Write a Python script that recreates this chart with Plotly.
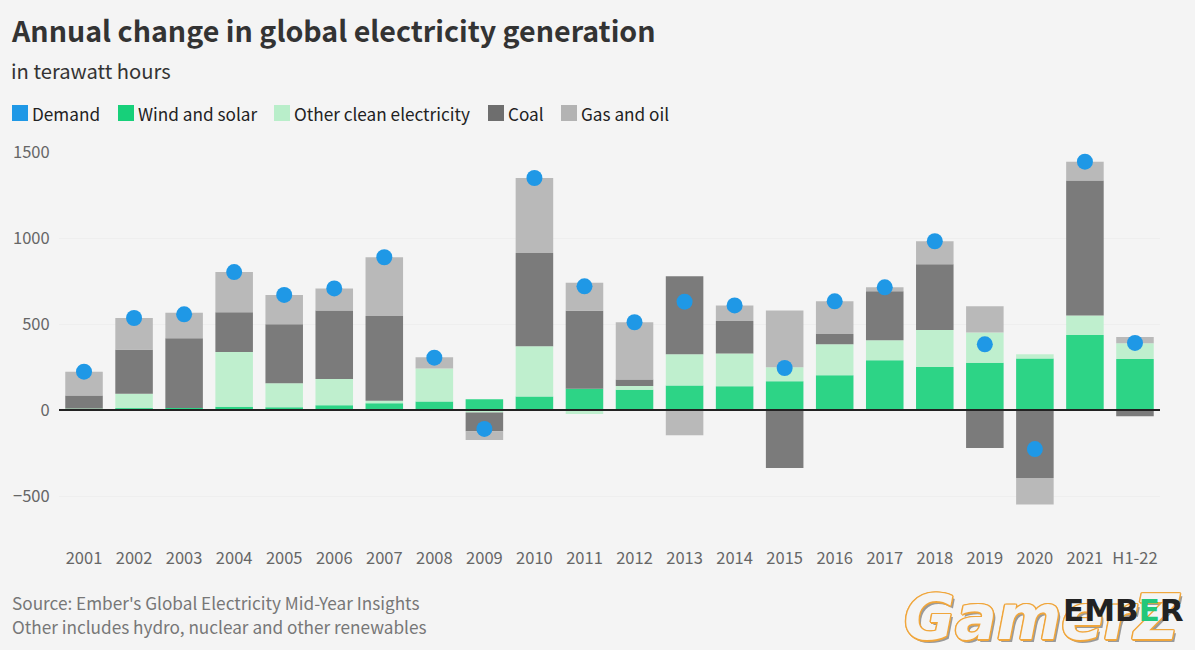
import plotly.graph_objects as go

# Data (TWh)
years = ["2001", "2002", "2003", "2004", "2005", "2006", "2007", "2008", "2009", "2010", "2011",
         "2012", "2013", "2014", "2015", "2016", "2017", "2018", "2019", "2020", "2021", "H1-22"]
wind_solar = [2, 10, 12, 19, 16, 27, 39, 50, 62, 79, 124, 118, 143, 138, 167, 202, 289, 250, 275, 300, 436, 297]
other_clean = [6, 85, -5, 318, 139, 153, 15, 192, -15, 291, -23, 22, 181, 191, 81, 180, 116, 215, 175, 24, 114, 91]
coal = [77, 256, 405, 231, 343, 399, 493, 0, -109, 543, 453, 38, 453, 188, -337, 60, 285, 382, -221, -395, 785, -37]
gas_oil = [138, 184, 149, 234, 171, 128, 341, 64, -50, 436, 163, 332, -147, 91, 331, 190, 23, 134, 153, -155, 109, 36]
demand = [223, 535, 556, 802, 669, 707, 888, 304, -110, 1349, 719, 510, 630, 608, 244, 632, 713, 981, 382, -227, 1444, 390]

legend_names = ["Demand", "Wind and solar", "Other clean electricity", "Coal", "Gas and oil"]
legend_colors = ["#1f98e6", "#17d07a", "#b9eeca", "#6e6e6e", "#b3b3b3"]
legend_x = [12, 118, 274, 488, 561]

tick_vals = [-500, 0, 500, 1000, 1500]

FONT = "Noto Sans CJK SC"
BG = "#f4f4f4"
W, H = 1195, 650
L, R, T, B = 59, 35, 152, 111


def px(x):
    return (x - L) / (W - L - R)


def py(y):
    return 1 - (y - T) / (H - T - B)


fig = go.Figure()

# Stacked bars
for name, vals, col in [("Wind and solar", wind_solar, legend_colors[1]),
                        ("Other clean electricity", other_clean, legend_colors[2]),
                        ("Coal", coal, legend_colors[3]),
                        ("Gas and oil", gas_oil, legend_colors[4])]:
    fig.add_trace(go.Bar(x=years, y=vals, name=name, marker=dict(color=col, opacity=0.9, line=dict(width=0))))

# Demand dots
fig.add_trace(go.Scatter(x=years, y=demand, name="Demand", mode="markers",
                         marker=dict(color=legend_colors[0], size=16), cliponaxis=False))

fig.add_shape(type="line", xref="paper", yref="y", x0=0, x1=1, y0=0, y1=0,
              line=dict(color="#222222", width=2), layer="above")

# Hand built legend with square swatches
for name, col, x in zip(legend_names, legend_colors, legend_x):
    fig.add_shape(type="rect", xref="paper", yref="paper", x0=px(x), x1=px(x + 16), y0=py(105), y1=py(121),
                  fillcolor=col, line=dict(width=0))
    fig.add_annotation(text=name, xref="paper", yref="paper", x=px(x + 18), y=py(113), xanchor="left",
                       yanchor="middle", showarrow=False, font=dict(family=FONT, size=17.2, color="#222222"))


def label(text, x, y, size, color, weight="normal", family=FONT, **font_kw):
    fig.add_annotation(text=text, xref="paper", yref="paper", x=px(x), y=py(y), xanchor="left", yanchor="middle",
                       showarrow=False, align="left",
                       font=dict(family=family, size=size, color=color, weight=weight, **font_kw))


label("Annual change in global electricity generation", 9, 30, 28.6, "#333333", weight="bold")
label("in terawatt hours", 9, 70, 20.2, "#333333")
label("Source: Ember's Global Electricity Mid-Year Insights", 10, 602, 17.2, "#777777")
label("Other includes hydro, nuclear and other renewables", 10, 626, 17.2, "#777777")

# Watermark sits under the logo
outline = ",".join(f"{dx}px {dy}px 0 {c}" for dx, dy, c in
                   [(-1.5, 0, "#f0a63c"), (1.5, 0, "#f0a63c"), (0, -1.5, "#f0a63c"), (0, 1.5, "#f0a63c"),
                    (-1, -1, "#f0a63c"), (1, 1, "#f0a63c"), (-1, 1, "#f0a63c"), (1, -1, "#f0a63c"),
                    (2.5, 2.5, "#9a9a9a")])
fig.add_annotation(text="<i>GamerZ</i>", xref="paper", yref="paper", x=px(1042), y=py(617), xanchor="center",
                   yanchor="middle", showarrow=False,
                   font=dict(family="DejaVu Sans", size=62, weight="bold", color=BG, shadow=outline))
label("EMB<span style='color:#22c77a'>E</span>R", 1061, 610, 31, "#222222", weight="bold", family="DejaVu Sans")

fig.update_layout(
    width=W, height=H,
    barmode="relative", bargap=0.25,
    paper_bgcolor=BG, plot_bgcolor=BG,
    showlegend=False,
    margin=dict(l=L, r=R, t=T, b=B),
    font=dict(family=FONT),
    xaxis=dict(type="category", range=[-0.5, 21.5], showgrid=False, zeroline=False, ticks="outside", ticklen=4,
               tickcolor="rgba(0,0,0,0)", tickfont=dict(family=FONT, size=16.5, color="#666666")),
    yaxis=dict(range=[-750, 1500], tickvals=tick_vals, gridcolor="#eeeeee", gridwidth=1, zeroline=False,
               ticks="outside", ticklen=5, tickcolor="rgba(0,0,0,0)",
               tickfont=dict(family=FONT, size=16.5, color="#666666")),
)

fig.write_html("out.html", config=dict(displayModeBar=False),
               post_script="document.body.style.margin='0';document.body.style.background='%s';" % BG)
